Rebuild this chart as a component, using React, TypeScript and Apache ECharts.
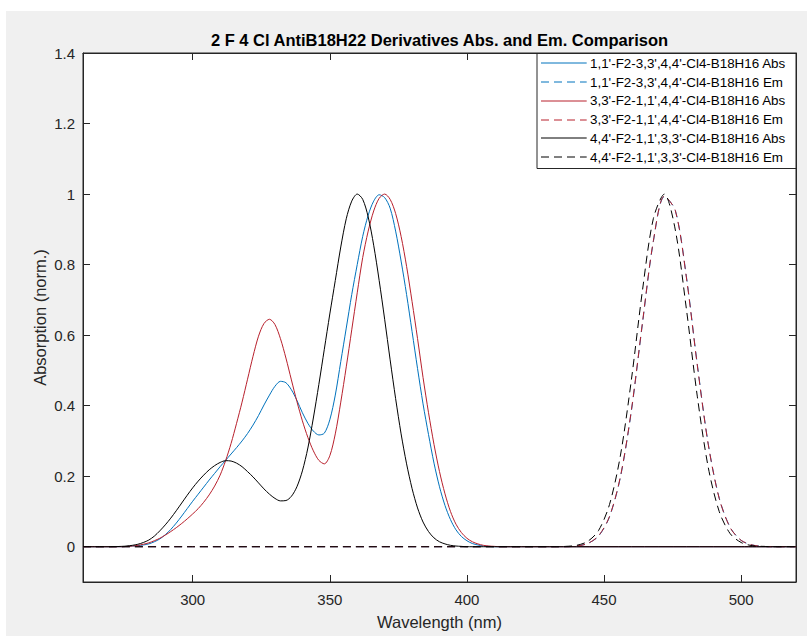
import React, { useEffect, useRef } from "react";
import * as echarts from "echarts";

// ---------- data ----------
const ABS_WL = [
  260, 266, 270, 274,
  276, 278, 280, 282, 284, 286, 288, 290, 292, 294,
  296, 298, 300, 302, 304, 306, 308, 310, 312, 314,
  316, 318, 320, 322, 324, 326, 328, 330, 332, 334,
  336, 338, 340, 342, 344, 346, 348, 350, 352, 354,
  356, 358, 360, 362, 364, 366, 368, 370, 372, 374,
  376, 378, 380, 382, 384, 386, 388, 390, 392, 394,
  396, 398, 400, 402, 404, 406, 408, 410, 412,
  420, 440, 460, 480, 500, 520,
];
const ABS_BLUE = [
  0, 0, 0, 0,
  0.001, 0.002, 0.003, 0.005, 0.008, 0.014, 0.022, 0.034, 0.049, 0.067,
  0.087, 0.108, 0.129, 0.149, 0.169, 0.189, 0.208, 0.227, 0.245, 0.263,
  0.281, 0.3, 0.321, 0.345, 0.372, 0.402, 0.43, 0.455, 0.469, 0.465,
  0.445, 0.415, 0.38, 0.35, 0.328, 0.317, 0.322, 0.36, 0.43, 0.525,
  0.62, 0.715, 0.8, 0.88, 0.94, 0.98, 0.998, 0.99, 0.96, 0.895,
  0.81, 0.715, 0.61, 0.505, 0.405, 0.318, 0.237, 0.17, 0.117, 0.077,
  0.048, 0.029, 0.017, 0.009, 0.005, 0.002, 0.001, 0, 0,
  0, 0, 0, 0, 0, 0,
];
const ABS_RED = [
  0, 0, 0, 0,
  0.001, 0.002, 0.004, 0.007, 0.011, 0.017, 0.024, 0.033, 0.043, 0.054,
  0.066, 0.079, 0.093, 0.108, 0.126, 0.147, 0.172, 0.203, 0.244, 0.293,
  0.35, 0.41, 0.475, 0.54, 0.597, 0.633, 0.645, 0.63, 0.59, 0.535,
  0.473, 0.412, 0.357, 0.31, 0.272, 0.245, 0.235, 0.258, 0.32, 0.41,
  0.51, 0.615, 0.72, 0.82, 0.895, 0.952, 0.988, 1.0, 0.985, 0.945,
  0.88, 0.795, 0.695, 0.59, 0.48, 0.38, 0.29, 0.213, 0.15, 0.1,
  0.064, 0.04, 0.024, 0.014, 0.008, 0.004, 0.002, 0.001, 0,
  0, 0, 0, 0, 0, 0,
];
const ABS_BLACK = [
  0, 0, 0, 0.001,
  0.002, 0.004, 0.007, 0.012, 0.019, 0.03, 0.045, 0.062, 0.081, 0.102,
  0.124, 0.146, 0.167, 0.186, 0.203, 0.218, 0.23, 0.239, 0.244, 0.243,
  0.237, 0.227, 0.213, 0.198, 0.181, 0.164, 0.149, 0.137, 0.13, 0.131,
  0.143, 0.17, 0.215, 0.28, 0.365, 0.46, 0.56, 0.66, 0.755, 0.85,
  0.93, 0.98, 1.0, 0.985, 0.935, 0.855, 0.755, 0.645, 0.53, 0.42,
  0.32, 0.235, 0.165, 0.11, 0.07, 0.043, 0.025, 0.014, 0.008, 0.004,
  0.002, 0.001, 0, 0, 0, 0, 0, 0, 0,
  0, 0, 0, 0, 0, 0,
];

const EM_WL = [
  260, 300, 350, 400, 432, 436, 440, 444, 448, 452, 456, 460, 464, 468, 472, 476, 480, 484, 488, 492,
  496, 500, 504, 508, 512, 520,
];
const EM_BLUE = [
  0, 0, 0, 0, 0, 0, 0.002, 0.009, 0.03, 0.085, 0.198, 0.386, 0.632, 0.866, 0.993, 0.954, 0.768, 0.518, 0.292, 0.138,
  0.055, 0.018, 0.005, 0.001, 0, 0,
];
const EM_RED = [
  0, 0, 0, 0, 0, 0, 0.002, 0.009, 0.031, 0.086, 0.2, 0.389, 0.635, 0.868, 0.994, 0.953, 0.765, 0.515, 0.29, 0.137,
  0.054, 0.018, 0.005, 0.001, 0, 0,
];
const EM_BLACK = [
  0, 0, 0, 0, 0, 0.001, 0.004, 0.015, 0.046, 0.12, 0.26, 0.475, 0.726, 0.931, 1.0, 0.898, 0.676, 0.427, 0.225, 0.1,
  0.037, 0.012, 0.003, 0.001, 0, 0,
];

const SERIES_NAMES = [
  "1,1'-F2-3,3',4,4'-Cl4-B18H16 Abs",
  "1,1'-F2-3,3',4,4'-Cl4-B18H16 Em",
  "3,3'-F2-1,1',4,4'-Cl4-B18H16 Abs",
  "3,3'-F2-1,1',4,4'-Cl4-B18H16 Em",
  "4,4'-F2-1,1',3,3'-Cl4-B18H16 Abs",
  "4,4'-F2-1,1',3,3'-Cl4-B18H16 Em",
];

const X_TICKS = [300, 350, 400, 450, 500];
const Y_TICKS = [0, 0.2, 0.4, 0.6, 0.8, 1, 1.2, 1.4];

const TITLE = "2 F 4 Cl AntiB18H22 Derivatives Abs. and Em. Comparison";
const X_NAME = "Wavelength (nm)";
const Y_NAME = "Absorption (norm.)";

const BLUE = "#0072BD";
const RED = "#B8202C";
const BLACK = "#000000";
const AXIS = "#262626";
const FONT = "'Liberation Sans', Arial, Helvetica, sans-serif";
const DASH = [8, 5];

const SERIES_COLORS = [BLUE, BLUE, RED, RED, BLACK, BLACK];
const SERIES_DASHED = [false, true, false, true, false, true];

function zip(xs: number[], ys: number[]) {
  return xs.map((x, i) => [x, ys[i]]);
}

function line(name: string, xs: number[], ys: number[], color: string, dashed: boolean) {
  return {
    name,
    type: "line",
    data: zip(xs, ys),
    symbol: "none",
    showSymbol: false,
    smooth: 0.3,
    silent: true,
    emphasis: { disabled: true },
    itemStyle: { color },
    lineStyle: { color, width: 1, type: dashed ? DASH : "solid" },
    xAxisIndex: 0,
    yAxisIndex: 0,
  };
}

export default function App() {
  const ref = useRef<HTMLDivElement>(null);

  useEffect(() => {
    if (!ref.current) return;
    const chart = echarts.init(ref.current, null, { renderer: "svg" });

    const gridLeft = 77;
    const gridTop = 42;
    const gridW = 713;
    const gridH = 529;

    // hand-drawn legend box (layout only)
    const legRight = gridLeft + gridW;
    const legLeft = 530.5;
    const legTop = gridTop;
    const legH = 115;
    const rowGap = 18.75;
    const firstRow = 52.3;
    const lineX1 = 535;
    const lineX2 = 580.7;
    const textX = 584;

    const legendGraphics: any[] = [
      {
        type: "rect",
        silent: true,
        z: 100,
        shape: { x: legLeft + 0.5, y: legTop + 0.5, width: legRight - legLeft - 0.5, height: legH },
        style: { fill: "#ffffff", stroke: AXIS, lineWidth: 1 },
      },
    ];
    SERIES_NAMES.forEach((name, i) => {
      const cy = Math.round(firstRow + i * rowGap);
      legendGraphics.push({
        type: "line",
        silent: true,
        z: 101,
        shape: { x1: lineX1, y1: cy, x2: lineX2, y2: cy },
        style: {
          stroke: SERIES_COLORS[i],
          lineWidth: 1,
          lineDash: SERIES_DASHED[i] ? DASH : null,
        },
      });
      legendGraphics.push({
        type: "text",
        silent: true,
        z: 101,
        x: textX,
        y: firstRow + i * rowGap,
        style: {
          text: name,
          fill: "#000",
          fontFamily: FONT,
          fontSize: 13.4,
          align: "left",
          verticalAlign: "middle",
        },
      });
    });

    const xBase = {
      type: "value",
      min: 260,
      max: 520,
      axisLine: { show: true, onZero: false, lineStyle: { color: AXIS, width: 1 } },
      splitLine: { show: false },
      axisTick: {
        show: true,
        inside: true,
        length: 7,
        customValues: X_TICKS,
        lineStyle: { color: AXIS, width: 1 },
      },
    };
    const yBase = {
      type: "value",
      min: -0.1,
      max: 1.4,
      axisLine: { show: true, onZero: false, lineStyle: { color: AXIS, width: 1 } },
      splitLine: { show: false },
      axisTick: {
        show: true,
        inside: true,
        length: 7,
        customValues: Y_TICKS,
        lineStyle: { color: AXIS, width: 1 },
      },
    };

    chart.setOption({
      animation: false,
      backgroundColor: "#f0f0f0",
      grid: {
        left: gridLeft,
        top: gridTop,
        width: gridW,
        height: gridH,
        show: true,
        backgroundColor: "#ffffff",
        borderColor: AXIS,
        borderWidth: 1,
      },
      xAxis: [
        {
          ...xBase,
          position: "bottom",
          axisLabel: {
            show: true,
            customValues: X_TICKS,
            margin: 10,
            color: AXIS,
            fontFamily: FONT,
            fontSize: 15,
          },
        },
        { ...xBase, position: "top", axisLabel: { show: false } },
      ],
      yAxis: [
        {
          ...yBase,
          position: "left",
          axisLabel: {
            show: true,
            customValues: Y_TICKS,
            margin: 8,
            color: AXIS,
            fontFamily: FONT,
            fontSize: 15,
            formatter: (v: number) => String(Math.round(v * 10) / 10),
          },
        },
        { ...yBase, position: "right", axisLabel: { show: false } },
      ],
      graphic: [
        {
          type: "text",
          x: gridLeft + gridW / 2,
          y: 28.5,
          silent: true,
          style: {
            text: TITLE,
            fill: "#000",
            fontFamily: FONT,
            fontSize: 16.5,
            fontWeight: "bold",
            align: "center",
            verticalAlign: "middle",
          },
        },
        {
          type: "text",
          x: gridLeft + gridW / 2,
          y: 610.7,
          silent: true,
          style: {
            text: X_NAME,
            fill: AXIS,
            fontFamily: FONT,
            fontSize: 16.5,
            align: "center",
            verticalAlign: "middle",
          },
        },
        {
          type: "text",
          x: 34,
          y: gridTop + gridH / 2,
          rotation: Math.PI / 2,
          silent: true,
          style: {
            text: Y_NAME,
            fill: AXIS,
            fontFamily: FONT,
            fontSize: 16.5,
            align: "center",
            verticalAlign: "middle",
          },
        },
        ...legendGraphics,
      ],
      series: [
        line(SERIES_NAMES[0], ABS_WL, ABS_BLUE, SERIES_COLORS[0], SERIES_DASHED[0]),
        line(SERIES_NAMES[1], EM_WL, EM_BLUE, SERIES_COLORS[1], SERIES_DASHED[1]),
        line(SERIES_NAMES[2], ABS_WL, ABS_RED, SERIES_COLORS[2], SERIES_DASHED[2]),
        line(SERIES_NAMES[3], EM_WL, EM_RED, SERIES_COLORS[3], SERIES_DASHED[3]),
        line(SERIES_NAMES[4], ABS_WL, ABS_BLACK, SERIES_COLORS[4], SERIES_DASHED[4]),
        line(SERIES_NAMES[5], EM_WL, EM_BLACK, SERIES_COLORS[5], SERIES_DASHED[5]),
      ],
    });

    return () => chart.dispose();
  }, []);

  return (
    <div style={{ position: "absolute", left: 0, top: 0, width: 807, height: 636, background: "#ffffff" }}>
      <div ref={ref} style={{ position: "absolute", left: 6, top: 11, width: 801, height: 625 }} />
    </div>
  );
}
